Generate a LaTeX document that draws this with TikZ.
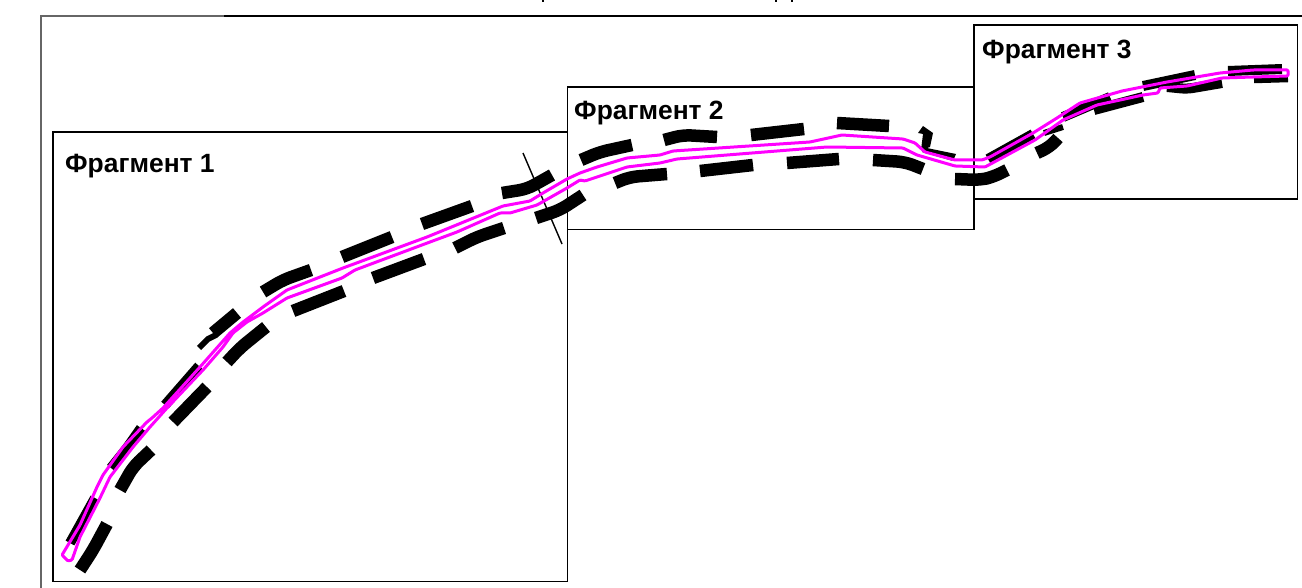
\documentclass[tikz,border=0pt]{standalone}
\usepackage{fontspec}
\setmainfont{Liberation Sans}
\tikzset{
  frame/.style={draw=black,line width=1.9pt},
  lab/.style={anchor=base west,inner sep=0pt,font=\bfseries\fontsize{26.4}{28}\selectfont},
  dashA/.style={draw=black,line width=12.5pt,rounded corners=8pt},
  dashB/.style={draw=black,line width=10pt,rounded corners=6pt},
  dashC/.style={draw=black,line width=6pt},
  road/.style={draw=magenta2,line width=3pt,line join=round,rounded corners=1pt}
}
\definecolor{magenta2}{RGB}{255,0,255}
\begin{document}
\begin{tikzpicture}[x=1pt,y=-1pt]
\useasboundingbox (0,0) rectangle (1302,588);
\fill[white] (0,0) rectangle (1302,588);
% outer frame
\draw[draw=black!60,line width=2pt] (41,588) -- (41,16.5) -- (224,16.5);
\draw[draw=black,line width=2pt] (224,16.5) -- (1302,16.5);
% clipped marks at the top edge
\fill[black] (541.5,0) rectangle (543.5,2);
\fill[black] (774.5,0) rectangle (776.5,2);
\fill[black] (790.5,0) rectangle (792.5,2);
% fragment boxes
\draw[frame] (53,132) rectangle (567.5,581.5);
\draw[frame] (567.5,87) rectangle (974,229.5);
\draw[frame] (974,25) rectangle (1297.5,199);
\node[lab] (f1) at (65,173) {Фрагмент 1};
\node[lab] (f2) at (574,120) {Фрагмент 2};
\node[lab] (f3) at (982,59) {Фрагмент 3};
% cut line
\draw[black,line width=1.4pt] (523,153) -- (562,244);
% upper dashes
\draw[dashB] (70,543) -- (95,498);
\draw[dashB] (111,468) -- (127,448) -- (141,428);
\draw[dashB] (165,405) -- (199,366);
\draw[dashC] (199,348) -- (208,339) -- (216,335);
\draw[dashA] (213,333) -- (237,313);
\draw[dashA] (263,292) -- (283,280) -- (311,270);
\draw[dashA] (342,257) -- (392,237);
\draw[dashA] (422,224) -- (472,206);
\draw[dashA] (502,193) -- (527,189) -- (552,175);
\draw[dashA] (581,160) -- (600,152) -- (632,145);
\draw[dashA] (664,140) -- (683,135) -- (717,137);
\draw[dashA] (751,135) -- (804,129);
\draw[dashA] (837,123) -- (889,126);
\fill[black] (923,126) -- (918,133) -- (923,134) -- (921,150) -- (930,147) -- (933,133) -- cycle;
\fill[black] (922,147) -- (956,154) -- (953,161) -- (922,152) -- cycle;
\draw[dashB] (988,159) -- (1033,134);
\draw[dashB] (1063,117) -- (1110,97);
\draw[dashB] (1143,86) -- (1195,75);
\draw[dashB] (1228,71) -- (1282,69);
% lower dashes
\draw[dashA] (80,570) -- (93,550) -- (107,524);
\draw[dashA] (120,490) -- (133,467) -- (151,450);
\draw[dashA] (173,422) -- (207,387);
\draw[dashA] (227,362) -- (240,348) -- (266,327);
\draw[dashA] (293,311) -- (344,291);
\draw[dashA] (373,278) -- (424,259);
\draw[dashA] (455,248) -- (477,237) -- (504,228);
\draw[dashA] (536,218) -- (560,210) -- (583,195);
\draw[dashA] (615,183) -- (630,177) -- (667,174);
\draw[dashA] (700,171) -- (753,165);
\draw[dashA] (787,163) -- (839,159);
\draw[dashA] (873,160) -- (905,162) -- (923,169);
\draw[dashA] (955,179) -- (980,180) -- (993,177) -- (1007,170);
\draw[dashA] (1037,153) -- (1050,147) -- (1058,138);
\draw[dashC] (1044,133) -- (1063,127);
\draw[dashB] (1094,110) -- (1143,97);
\draw[dashB] (1167,87) -- (1187,89) -- (1222,83);
\draw[draw=black,line width=6.5pt] (1254,80) -- (1288,79);
% road outline
\draw[road] (62,555) -- (68,545) -- (80,525) -- (97,487) -- (103,475) -- (123,447) -- (147,422) -- (152,418) -- (163,408) -- (200,367) -- (230,333) -- (243,322) -- (263,307) -- (287,290) -- (343,268) -- (427,237) -- (503,206) -- (530,201) -- (543,193) -- (567,179) -- (580,173) -- (597,167) -- (627,158) -- (660,155) -- (673,151) -- (810,142) -- (842,135) -- (903,139) -- (915,143) -- (925,152) -- (955,160) -- (982,160) -- (990,157) -- (1033,133) -- (1057,118) -- (1080,103) -- (1122,91) -- (1167,82) -- (1220,73) -- (1253,70) -- (1288,70)
 -- (1288,76) -- (1253,77) -- (1222,78) -- (1187,86) -- (1160,88) -- (1158,93) -- (1143,95) -- (1097,105) -- (1063,120) -- (1035,140) -- (985,167) -- (955,166) -- (917,155) -- (903,148) -- (827,147) -- (677,159) -- (660,163) -- (627,167) -- (585,181) -- (580,180) -- (567,188) -- (537,205) -- (510,213) -- (500,213) -- (457,232) -- (430,242) -- (355,270) -- (342,278) -- (287,298) -- (263,313) -- (247,322) -- (233,333) -- (223,347) -- (203,370) -- (167,408) -- (150,427) -- (133,447) -- (110,477) -- (100,498) -- (80,537) -- (72,560) -- (68,561) -- cycle;
\end{tikzpicture}
\end{document}
